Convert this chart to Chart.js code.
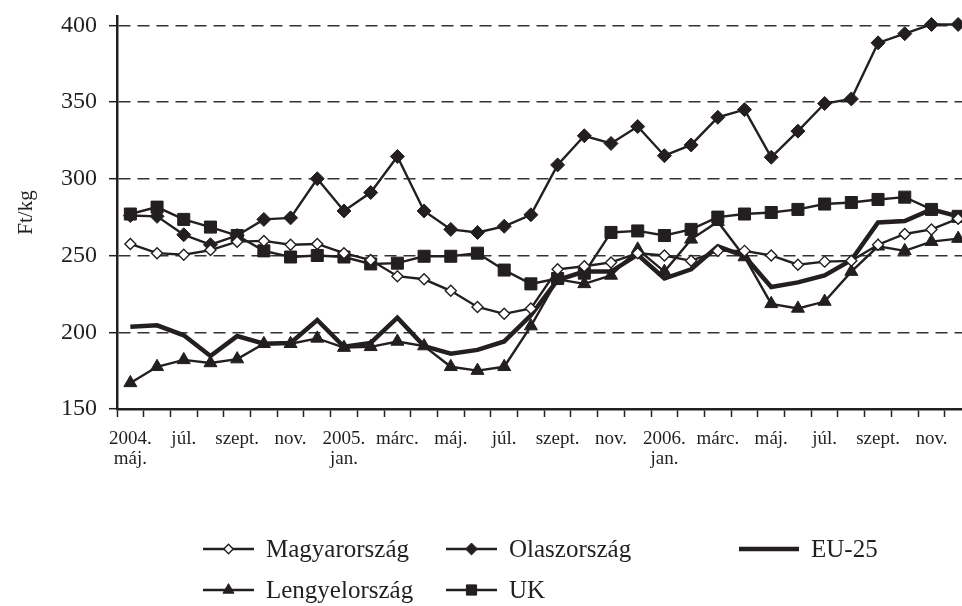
<!DOCTYPE html>
<html>
<head>
<meta charset="utf-8">
<script src="https://cdn.jsdelivr.net/npm/chart.js@4/dist/chart.umd.min.js"></script>
<style>
  html, body { margin: 0; padding: 0; background: #fff; overflow: hidden; }
  #wrap { position: absolute; left: 0; top: 0; width: 981px; height: 606px; }
</style>
</head>
<body>
<div id="wrap"><canvas id="priceChart"></canvas></div>
<script>
// monthly categories, 2004 May .. 2006 Dec
const months = [
  "2004-05", "2004-06", "2004-07", "2004-08", "2004-09", "2004-10", "2004-11", "2004-12",
  "2005-01", "2005-02", "2005-03", "2005-04", "2005-05", "2005-06", "2005-07", "2005-08",
  "2005-09", "2005-10", "2005-11", "2005-12", "2006-01", "2006-02", "2006-03", "2006-04",
  "2006-05", "2006-06", "2006-07", "2006-08", "2006-09", "2006-10", "2006-11", "2006-12",
];
const tickLabels = [
  ["2004.", "máj."], "", "júl.", "", "szept.", "", "nov.", "",
  ["2005.", "jan."], "", "márc.", "", "máj.", "", "júl.", "",
  "szept.", "", "nov.", "", ["2006.", "jan."], "", "márc.", "",
  "máj.", "", "júl.", "", "szept.", "", "nov.", "",
];
const yTicks = [150, 200, 250, 300, 350, 400];

const hungary = [257.5, 251.5, 250.5, 253.5, 259, 259.5, 257, 257.5, 251.5, 247, 236.5, 234.5, 227, 216.5, 212, 215.5,
  241, 243, 245.5, 251.5, 250, 246.5, 253, 253, 250, 244, 246, 246.5, 257, 264, 267, 274];
const italy = [276, 275.5, 263.5, 257, 263, 273.5, 274.5, 300, 279, 291, 314.5, 279, 267, 265, 269, 276.5,
  309, 328, 323, 334, 315, 322, 340, 345, 314, 331, 349, 352, 388.5, 394.5, 400.5, 400.5];
const eu25 = [203.5, 204.5, 198, 184.5, 197.5, 192.5, 193, 208, 190.5, 193, 209.5, 191, 186, 188.5, 194, 211,
  234, 239.5, 239.5, 250.5, 235, 241, 256, 249.5, 229.5, 232.5, 237, 247, 271.5, 272.5, 280, 275.5];
const poland = [167, 177.5, 182, 180, 182.5, 192.5, 192.5, 196, 190, 190.5, 194, 191, 177.5, 175, 177.5, 204,
  234.5, 231.5, 237, 254, 239.5, 260.5, 272, 249, 218.5, 215.5, 220, 239.5, 256, 253, 259, 261];
const uk = [277, 281.5, 273.5, 268.5, 263, 253, 249, 250, 249, 244.5, 245, 249.5, 249.5, 251.5, 240.5, 231.5,
  235, 238.5, 265, 266, 263, 267, 275, 277, 278, 280, 283.5, 284.5, 286.5, 288, 280, 275.5];

const INK = "#231f20";
const SERIF = "'Liberation Serif', 'Times New Roman', serif";

// legend slots: [dataset index, line start x, line length, centre y]
const legendSlots = [
  [0, 203, 51, 549], [1, 446, 51, 549], [2, 739, 60, 549],
  [3, 203, 51, 590], [4, 446, 51, 590],
];

const manualLegend = {
  id: "manualLegend",
  afterDraw(chart) {
    const ctx = chart.ctx;
    ctx.save();
    legendSlots.forEach(([index, x, len, y]) => {
      const ds = chart.data.datasets[index];
      ctx.strokeStyle = INK;
      ctx.lineWidth = ds.borderWidth;
      ctx.beginPath();
      ctx.moveTo(x, y);
      ctx.lineTo(x + len, y);
      ctx.stroke();
      if (ds.pointRadius > 0) {
        ctx.fillStyle = ds.pointBackgroundColor;
        ctx.strokeStyle = INK;
        ctx.lineWidth = ds.pointBorderWidth;
        Chart.helpers.drawPoint(ctx, {
          pointStyle: ds.pointStyle,
          radius: ds.pointRadius * 0.85,
          borderWidth: ds.pointBorderWidth,
          rotation: 0,
        }, x + len / 2, y);
      }
      ctx.fillStyle = INK;
      ctx.font = `25px ${SERIF}`;
      ctx.textBaseline = "middle";
      ctx.textAlign = "left";
      ctx.fillText(ds.label, x + len + 12, y + 1);
    });
    ctx.restore();
  },
};

function series(label, data, extra) {
  return Object.assign({
    label,
    data,
    borderColor: INK,
    borderWidth: 2.4,
    pointBackgroundColor: INK,
    pointBorderColor: INK,
    pointBorderWidth: 1,
    tension: 0,
    fill: false,
  }, extra);
}

new Chart(document.getElementById("priceChart"), {
  type: "line",
  data: {
    labels: months,
    datasets: [
      series("Magyarország", hungary, { pointStyle: "rectRot", pointRadius: 5.5, pointBackgroundColor: "#fff", pointBorderWidth: 1.4 }),
      series("Olaszország", italy, { pointStyle: "rectRot", pointRadius: 7 }),
      series("EU-25", eu25, { borderWidth: 4.5, pointRadius: 0, pointHoverRadius: 0 }),
      series("Lengyelország", poland, { pointStyle: "triangle", pointRadius: 7.5 }),
      series("UK", uk, { pointStyle: "rect", pointRadius: 8.5 }),
    ],
  },
  options: {
    responsive: true,
    maintainAspectRatio: false,
    devicePixelRatio: 1,
    animation: false,
    layout: { padding: { top: 16, right: 5, left: 0, bottom: 0 } },
    plugins: {
      legend: { display: false },
      tooltip: { enabled: false },
    },
    scales: {
      x: {
        type: "category",
        offset: true,
        afterFit: (scale) => { scale.height = 197; },
        grid: {
          offset: true,
          drawOnChartArea: false,
          drawTicks: true,
          tickLength: 8,
          tickColor: INK,
          tickWidth: 1.5,
        },
        border: { color: INK, width: 2.5 },
        ticks: {
          autoSkip: false,
          maxRotation: 0,
          minRotation: 0,
          padding: 12,
          color: INK,
          font: { family: SERIF, size: 19, lineHeight: 1.06 },
          callback: (value, index) => tickLabels[index],
        },
      },
      y: {
        min: 150,
        max: 406,
        afterBuildTicks: (scale) => { scale.ticks = yTicks.map((value) => ({ value })); },
        afterFit: (scale) => {
          scale.width = 117;
          scale.paddingTop = 0;
          scale.paddingBottom = 0;
        },
        grid: {
          color: (c) => (c.tick && c.tick.value === 150 ? "rgba(0,0,0,0)" : "#333"),
          lineWidth: 1.4,
          tickColor: INK,
          tickLength: 8,
          tickWidth: 1.5,
        },
        border: { color: INK, width: 2.5, dash: [12, 7] },
        ticks: {
          padding: 12,
          color: INK,
          font: { family: SERIF, size: 24 },
        },
        title: {
          display: true,
          text: "Ft/kg",
          color: INK,
          font: { family: SERIF, size: 21 },
          padding: { top: 14, bottom: 0 },
        },
      },
    },
  },
  plugins: [manualLegend],
});
</script>
</body>
</html>
